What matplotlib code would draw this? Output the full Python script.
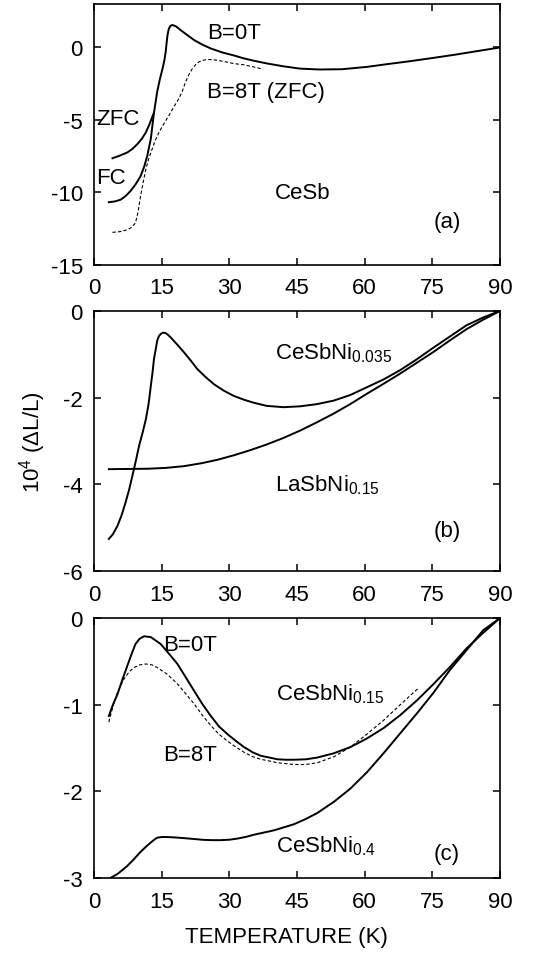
import matplotlib.pyplot as plt

plt.rcParams['font.family'] = ['Liberation Sans', 'DejaVu Sans']
plt.rcParams['mathtext.fontset'] = 'custom'
plt.rcParams['mathtext.rm'] = 'Liberation Sans'
plt.rcParams['mathtext.it'] = 'Liberation Sans'
plt.rcParams['axes.unicode_minus'] = False

# ---- panel (a): CeSb ----
a_zfc_T = [4.1, 5.8, 7.4, 8.5, 9.6, 10.6, 11.5, 12.3, 12.9, 13.3, 14.0, 14.6, 15.2, 15.6,
           15.9, 16.1, 16.3, 16.6, 17.0, 17.4, 18.2, 19.2, 20.7, 22.2, 24.0, 25.9, 28.5,
           31.0, 33.3, 35.5, 38.3, 42.0, 45.7, 50.0, 55.0, 60.5, 65.0, 70.0, 75.2, 80.0,
           85.0, 90.0]
a_zfc_y = [-7.64, -7.45, -7.24, -7.0, -6.67, -6.3, -5.86, -5.3, -4.8, -4.5, -3.08, -2.2,
           -1.46, -0.9, -0.3, 0.3, 0.85, 1.3, 1.5, 1.55, 1.45, 1.2, 0.85, 0.51, 0.2,
           -0.07, -0.35, -0.55, -0.76, -0.92, -1.1, -1.3, -1.46, -1.52, -1.5, -1.34,
           -1.15, -0.95, -0.72, -0.5, -0.25, 0.0]
a_fc_T = [3.3, 4.6, 5.9, 7.0, 8.1, 9.2, 10.3, 11.1, 11.8, 12.6, 13.3]
a_fc_y = [-10.67, -10.62, -10.5, -10.25, -9.9, -9.45, -8.9, -8.25, -7.5, -6.3, -4.5]
a_8t_T = [4.1, 5.8, 7.4, 8.4, 9.2, 9.8, 10.3, 10.9, 11.5, 12.2, 12.9, 13.6, 14.4, 15.5,
          16.6, 17.7, 18.8, 19.6, 20.3, 21.0, 21.8, 22.5, 23.3, 24.2, 25.1, 26.2, 27.3,
          29.0, 31.0, 33.3, 35.5, 37.5]
a_8t_y = [-12.75, -12.7, -12.57, -12.4, -12.1, -11.3, -10.3, -9.3, -8.4, -7.6, -7.0,
          -6.4, -5.86, -5.25, -4.7, -4.1, -3.54, -3.0, -2.38, -1.9, -1.46, -1.2, -0.99,
          -0.88, -0.83, -0.84, -0.88, -0.98, -1.11, -1.2, -1.35, -1.5]

# ---- panel (b): CeSbNi0.035 and LaSbNi0.15 ----
b_ce_T = [3.3, 4.2, 5.2, 6.1, 7.0, 7.8, 8.5, 9.3, 10.0, 10.8, 11.5, 12.1, 12.6, 13.0,
          13.3, 13.7, 14.0, 14.4, 14.8, 15.3, 15.9, 16.4, 17.0, 18.5, 20.0, 21.5, 22.9,
          24.7, 26.6, 28.8, 31.0, 33.3, 35.5, 38.3, 42.0, 45.7, 49.4, 53.1, 56.8, 60.5,
          64.2, 67.8, 71.5, 75.2, 78.9, 82.6, 86.3, 90.0]
b_ce_y = [-5.26, -5.15, -4.96, -4.72, -4.42, -4.12, -3.81, -3.45, -3.11, -2.8, -2.5,
          -2.15, -1.73, -1.4, -1.11, -0.88, -0.69, -0.58, -0.53, -0.5, -0.51, -0.55,
          -0.61, -0.78, -0.96, -1.15, -1.34, -1.52, -1.69, -1.84, -1.96, -2.05, -2.12,
          -2.19, -2.22, -2.2, -2.15, -2.07, -1.94, -1.76, -1.58, -1.37, -1.12, -0.85,
          -0.59, -0.33, -0.15, 0.0]
b_la_T = [3.3, 8.0, 12.0, 16.0, 20.0, 24.0, 27.5, 31.0, 34.7, 38.3, 42.0, 45.7, 49.4,
          53.1, 56.8, 60.5, 64.2, 67.8, 71.5, 75.2, 78.9, 82.6, 86.3, 90.0]
b_la_y = [-3.65, -3.645, -3.64, -3.62, -3.58, -3.51, -3.43, -3.33, -3.21, -3.08, -2.93,
          -2.76, -2.57, -2.37, -2.15, -1.91, -1.68, -1.45, -1.2, -0.95, -0.68, -0.42,
          -0.2, 0.0]

# ---- panel (c): CeSbNi0.15 (0 T, 8 T) and CeSbNi0.4 ----
c_0t_T = [3.3, 4.2, 5.2, 6.3, 7.4, 8.3, 9.2, 10.1, 11.1, 12.6, 13.7, 14.8, 16.6, 18.5,
          20.3, 22.2, 24.0, 25.9, 27.7, 29.6, 31.5, 33.3, 35.2, 37.0, 38.9, 40.7, 42.5,
          44.3, 47.0, 49.5, 53.2, 56.8, 60.5, 64.2, 67.9, 71.6, 75.3, 79.0, 82.6, 86.3,
          90.0]
c_0t_y = [-1.13, -1.0, -0.88, -0.71, -0.55, -0.42, -0.3, -0.24, -0.21, -0.22, -0.26,
          -0.3, -0.41, -0.53, -0.68, -0.84, -0.99, -1.13, -1.25, -1.34, -1.42, -1.49,
          -1.55, -1.59, -1.61, -1.63, -1.635, -1.635, -1.63, -1.61, -1.56, -1.49,
          -1.39, -1.27, -1.12, -0.95, -0.76, -0.56, -0.35, -0.17, 0.0]
c_8t_T = [3.3, 4.2, 5.2, 6.0, 6.7, 7.8, 8.9, 10.2, 11.5, 12.8, 14.0, 16.3, 18.5, 20.3,
          22.2, 24.0, 25.9, 27.7, 29.6, 31.5, 33.3, 35.2, 37.0, 38.9, 40.7, 42.5, 44.3,
          47.0, 49.5, 53.2, 56.8, 60.5, 64.2, 67.9, 71.9]
c_8t_y = [-1.2, -1.02, -0.86, -0.77, -0.7, -0.62, -0.57, -0.54, -0.53, -0.54, -0.57,
          -0.65, -0.76, -0.87, -0.99, -1.12, -1.24, -1.34, -1.42, -1.49, -1.55, -1.6,
          -1.63, -1.65, -1.67, -1.68, -1.69, -1.69, -1.67, -1.6, -1.49, -1.34, -1.18,
          -1.0, -0.81]
c_04_T = [3.3, 5.3, 7.4, 8.9, 10.3, 11.5, 12.6, 13.3, 14.0, 15.0, 16.3, 18.0, 20.0, 22.2,
          24.4, 26.3, 28.1, 30.0, 31.8, 33.7, 35.5, 37.7, 39.9, 42.1, 44.3, 46.9, 49.5,
          53.2, 56.8, 60.5, 64.2, 67.9, 71.6, 75.3, 78.9, 82.6, 86.3, 90.0]
c_04_y = [-3.01, -2.95, -2.86, -2.78, -2.7, -2.64, -2.59, -2.56, -2.535, -2.527, -2.527,
          -2.532, -2.54, -2.55, -2.56, -2.563, -2.563, -2.558, -2.545, -2.525, -2.5,
          -2.475, -2.45, -2.415, -2.38, -2.32, -2.25, -2.12, -1.97, -1.78, -1.56, -1.33,
          -1.1, -0.86, -0.6, -0.37, -0.14, 0.0]

xticks = [0, 15, 30, 45, 60, 75, 90]

fig = plt.figure(figsize=(5.37, 9.54), dpi=100)
fs = 16
lw = 1.4
boxes = [[0.175, 0.7212, 0.756, 0.2736],
         [0.175, 0.4004, 0.756, 0.2726],
         [0.175, 0.0786, 0.756, 0.2725]]
axes = [fig.add_axes(b) for b in boxes]

for ax in axes:
    ax.set_xlim(0, 90)
    ax.set_xticks(xticks)
    ax.tick_params(direction='in', top=True, right=True, length=5, width=1.1,
                   labelsize=fs)
    ax.tick_params(axis='x', pad=9)
    ax.tick_params(axis='y', pad=8)
    for s in ax.spines.values():
        s.set_linewidth(1.2)

ax = axes[0]
ax.plot(a_zfc_T, a_zfc_y, 'k-', lw=lw)
ax.plot(a_fc_T, a_fc_y, 'k-', lw=lw)
ax.plot(a_8t_T, a_8t_y, 'k--', lw=0.8, dashes=(3, 2))
ax.set_ylim(-15, 3)
ax.set_yticks([0, -5, -10, -15])
ax.text(25, 1.04, 'B=0T', fontsize=fs, va='center')
ax.text(25, -3.05, 'B=8T (ZFC)', fontsize=fs, va='center')
ax.text(0.5, -4.9, 'ZFC', fontsize=fs, va='center')
ax.text(0.5, -9.0, 'FC', fontsize=fs, va='center')
ax.text(40, -10.0, 'CeSb', fontsize=fs, va='center')
ax.text(75.2, -12.0, '(a)', fontsize=fs, va='center')

ax = axes[1]
ax.plot(b_ce_T, b_ce_y, 'k-', lw=lw)
ax.plot(b_la_T, b_la_y, 'k-', lw=lw)
ax.set_ylim(-6, 0)
ax.set_yticks([0, -2, -4, -6])
ax.text(40.2, -0.95, r'CeSbNi$_{0.035}$', fontsize=fs, va='center')
ax.text(40.2, -3.99, r'LaSbNi$_{0.15}$', fontsize=fs, va='center')
ax.text(75.2, -5.07, '(b)', fontsize=fs, va='center')

ax = axes[2]
ax.plot(c_0t_T, c_0t_y, 'k-', lw=lw)
ax.plot(c_8t_T, c_8t_y, 'k--', lw=0.8, dashes=(3, 2))
ax.plot(c_04_T, c_04_y, 'k-', lw=lw)
ax.set_ylim(-3, 0)
ax.set_yticks([0, -1, -2, -3])
ax.text(15.4, -0.30, 'B=0T', fontsize=fs, va='center')
ax.text(40.3, -0.87, r'CeSbNi$_{0.15}$', fontsize=fs, va='center')
ax.text(15.4, -1.58, 'B=8T', fontsize=fs, va='center')
ax.text(40.3, -2.62, r'CeSbNi$_{0.4}$', fontsize=fs, va='center')
ax.text(75.3, -2.72, '(c)', fontsize=fs, va='center')

fig.text(0.534, 0.0168, 'TEMPERATURE (K)', fontsize=fs, ha='center', va='center')
fig.text(0.06, 0.536, r'10$^4$ ($\Delta$L/L)', fontsize=fs, rotation=90,
         ha='center', va='center')

fig.savefig('out.png', dpi=100)
